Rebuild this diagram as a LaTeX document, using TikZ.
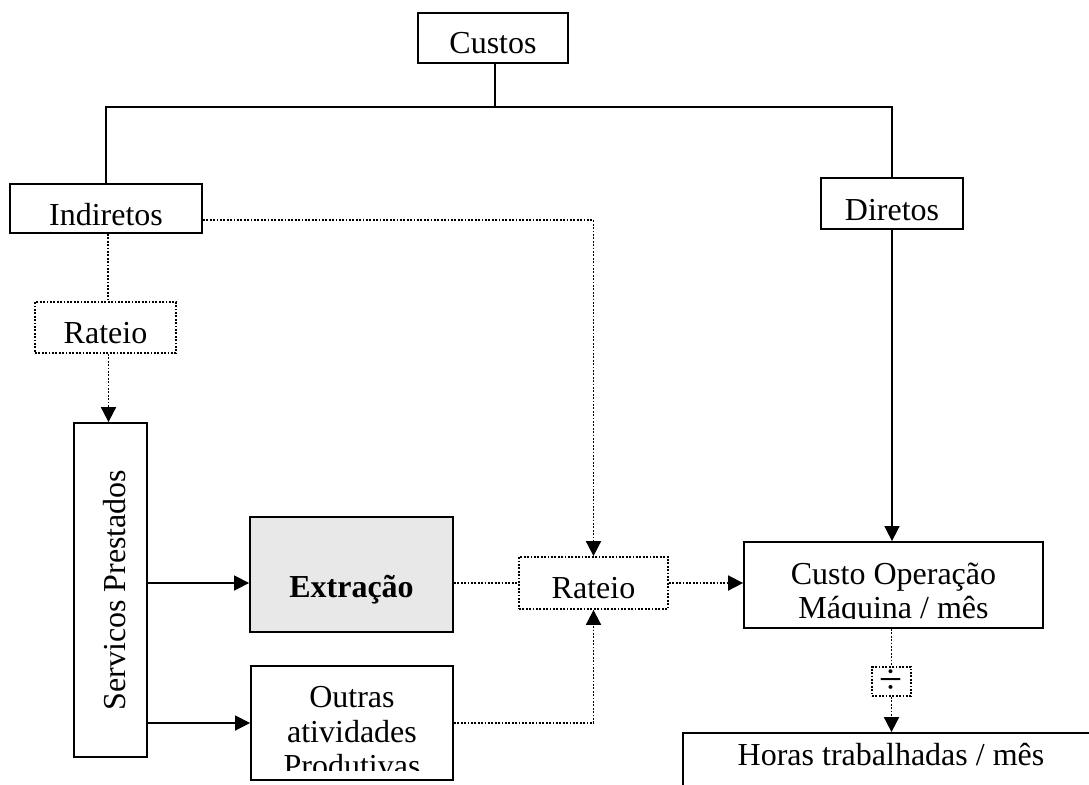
\documentclass[tikz,border=0pt]{standalone}
\usepackage{fontspec}
\setmainfont{Liberation Serif}
\usepackage{tikz}
\usetikzlibrary{arrows.meta, positioning}
\definecolor{extfill}{RGB}{232,232,232}

\begin{document}
\begin{tikzpicture}[
    x=0.5pt, y=-0.5pt, >={Triangle[length=7.5pt, width=7.5pt]},
    font=\fontsize{16}{17.25}\selectfont,
    every node/.style={inner sep=0pt},
    box/.style={draw, rectangle, line width=0.9pt, text height=15.5pt, text depth=0pt},
    dotline/.style={line width=0.9pt, dash pattern=on 0.9pt off 0.8pt},
    dotbox/.style={box, dotline},
    solid line/.style={line width=0.8pt}]

    \useasboundingbox (0,0) rectangle (1089,784);
    \clip (0,0) rectangle (1089,784);

    % Define boxes
    \node[box, minimum width=75pt, minimum height=25pt] (custos) at (493,38) {Custos};
    \node[box, minimum width=96pt, minimum height=24.5pt, text height=17pt] (ind) at (106,208.5) {Indiretos};
    \node[box, minimum width=71pt, minimum height=25.5pt, text height=16.5pt] (dir) at (892,203.5) {Diretos};
    \node[dotbox, minimum width=70.5pt, minimum height=25.5pt] (rat1) at (105.5,327.5) {Rateio};
    \node[box, rotate=90, minimum width=167pt, minimum height=36.5pt] (serv) at (110.5,590) {Servicos Prestados};
    \node[box, fill=extfill, minimum width=101.5pt, minimum height=57.5pt,
          text height=22.5pt, font=\fontsize{16}{17.25}\selectfont\bfseries] (ext) at (351.5,574.5) {Extração};
    \node[box, minimum width=101pt, minimum height=57pt] (outras) at (352,723) {};
    \node[dotbox, minimum width=74.5pt, minimum height=26pt] (rat2) at (593.5,583) {Rateio};
    \node[box, minimum width=149.5pt, minimum height=43pt] (cop) at (893.5,585) {};
    \node[draw, dotline, minimum width=19.5pt, minimum height=14.5pt,
          font=\fontsize{21}{21}\selectfont] (div) at (891.5,681.5) {÷};
    \node[box, minimum width=208pt, minimum height=50pt,
          text height=0pt, text depth=18pt] (horas) at (891,783) {Horas trabalhadas / mês};

    % Texts cut off by the box margins
    \begin{scope}
        \clip (outras.north west) rectangle ([yshift=5pt]outras.south east);
        \node[align=center] (outrastext) at (352,732) {Outras\\atividades\\Produtivas};
    \end{scope}
    \begin{scope}
        \clip (cop.north west) rectangle ([yshift=5pt]cop.south east);
        \node[align=center] (coptext) at (893.5,594) {Custo Operação\\Máquina / mês};
    \end{scope}

    % Draw connectors
    \coordinate (bus) at (495,107);
    \draw[solid line] (custos.south -| bus) -- (bus);
    \draw[solid line] (ind) |- (bus) -| (dir);
    \draw[solid line, ->] (dir.south) -- (dir.south |- cop.north);
    \draw[dotline] ([xshift=1pt]ind.south) -- ([xshift=1pt]ind.south |- rat1.north);
    \draw[dotline, ->] ([xshift=1.5pt]rat1.south) -- ([xshift=1.5pt]rat1.south |- serv.east);
    \draw[dotline, ->] ([yshift=-5.75pt]ind.east) -| (rat2.north);
    \draw[dotline, ->] (outras.east) -| (rat2.south);
    \path (serv.south |- rat2) edge[solid line, ->] (ext.west |- rat2)
          (serv.south |- outras) edge[solid line, ->] (outras.west)
          (ext.east |- rat2) edge[dotline] (rat2.west)
          (rat2.east) edge[dotline, ->] (cop.west |- rat2)
          (div |- cop.south) edge[dotline] (div.north)
          (div.south) edge[dotline, ->] (div.south |- horas.north);

\end{tikzpicture}
\end{document}
